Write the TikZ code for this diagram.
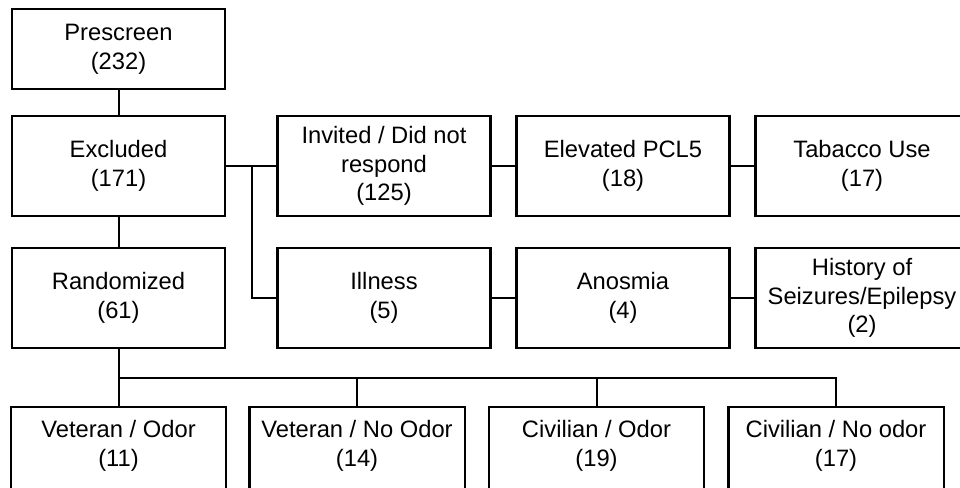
\documentclass[tikz,border=0pt]{standalone}
\usepackage{fontspec}
\setmainfont{Liberation Sans}

\begin{document}
\begin{tikzpicture}[x=0.75pt,y=-0.75pt,
	box/.style={draw,line width=1.8pt,align=center,inner sep=0pt,
		minimum width=159.75pt,minimum height=75pt,
		font=\fontsize{17.8}{21.5}\selectfont},
	group/.style={box,draw=none,minimum height=57pt},
	link/.style={line width=1.5pt}]
	\useasboundingbox (0,0) rectangle (960,487);
	\clip (0,0) rectangle (960,487);

	%LEFT COLUMN
	\node[box,minimum height=60pt] (pre) at (118.5,49) {Prescreen\\(232)};
	\node[box] (exc) at (118.5,166) {Excluded\\(171)};
	\node[box] (ran) at (118.5,298) {Randomized\\(61)};

	%EXCLUSION REASONS -- TOP
	\node[box] (inv) at (384,166) {Invited / Did not\\respond\\(125)};
	\node[box] (pcl) at (623,166) {Elevated PCL5\\(18)};
	\node[box] (tob) at (862,166) {Tabacco Use\\(17)};

	%EXCLUSION REASONS -- BOTTOM
	\node[box] (ill) at (384,298) {Illness\\(5)};
	\node[box] (ano) at (623,298) {Anosmia\\(4)};
	\node[box] (his) at (862,298) {History of\\Seizures/Epilepsy\\(2)};

	%GROUPS (frames run past the lower edge)
	\node[group] (vo) at (118.5,446) {Veteran / Odor\\(11)};
	\node[group] (vn) at (357,446) {Veteran / No Odor\\(14)};
	\node[group] (co) at (596.5,446) {Civilian / Odor\\(19)};
	\node[group] (cn) at (836,446) {Civilian / No odor\\(17)};
	\foreach \g in {vo,vn,co,cn}{
	\draw[line width=1.8pt] (\g.north west) rectangle ([yshift=-15pt]\g.south east);
		} %end foreach

	%LINES
	\draw[link] (pre.south)--(exc.north);
	\draw[link] (exc.south)--(ran.north);
	\coordinate (jn) at (252,166);
	\draw[link] (exc.east)--(inv.west);
	\draw[link] (jn) |- (ill.west);
	\draw[link] (inv.east)--(pcl.west);
	\draw[link] (pcl.east)--(tob.west);
	\draw[link] (ill.east)--(ano.west);
	\draw[link] (ano.east)--(his.west);
	\coordinate (bus) at (118.5,378);
	\draw[link] (ran.south)--(vo.north);
	\foreach \g in {vn,co,cn}{
	\draw[link] (bus) -| (\g.north);
		} %end foreach
\end{tikzpicture}
\end{document}
